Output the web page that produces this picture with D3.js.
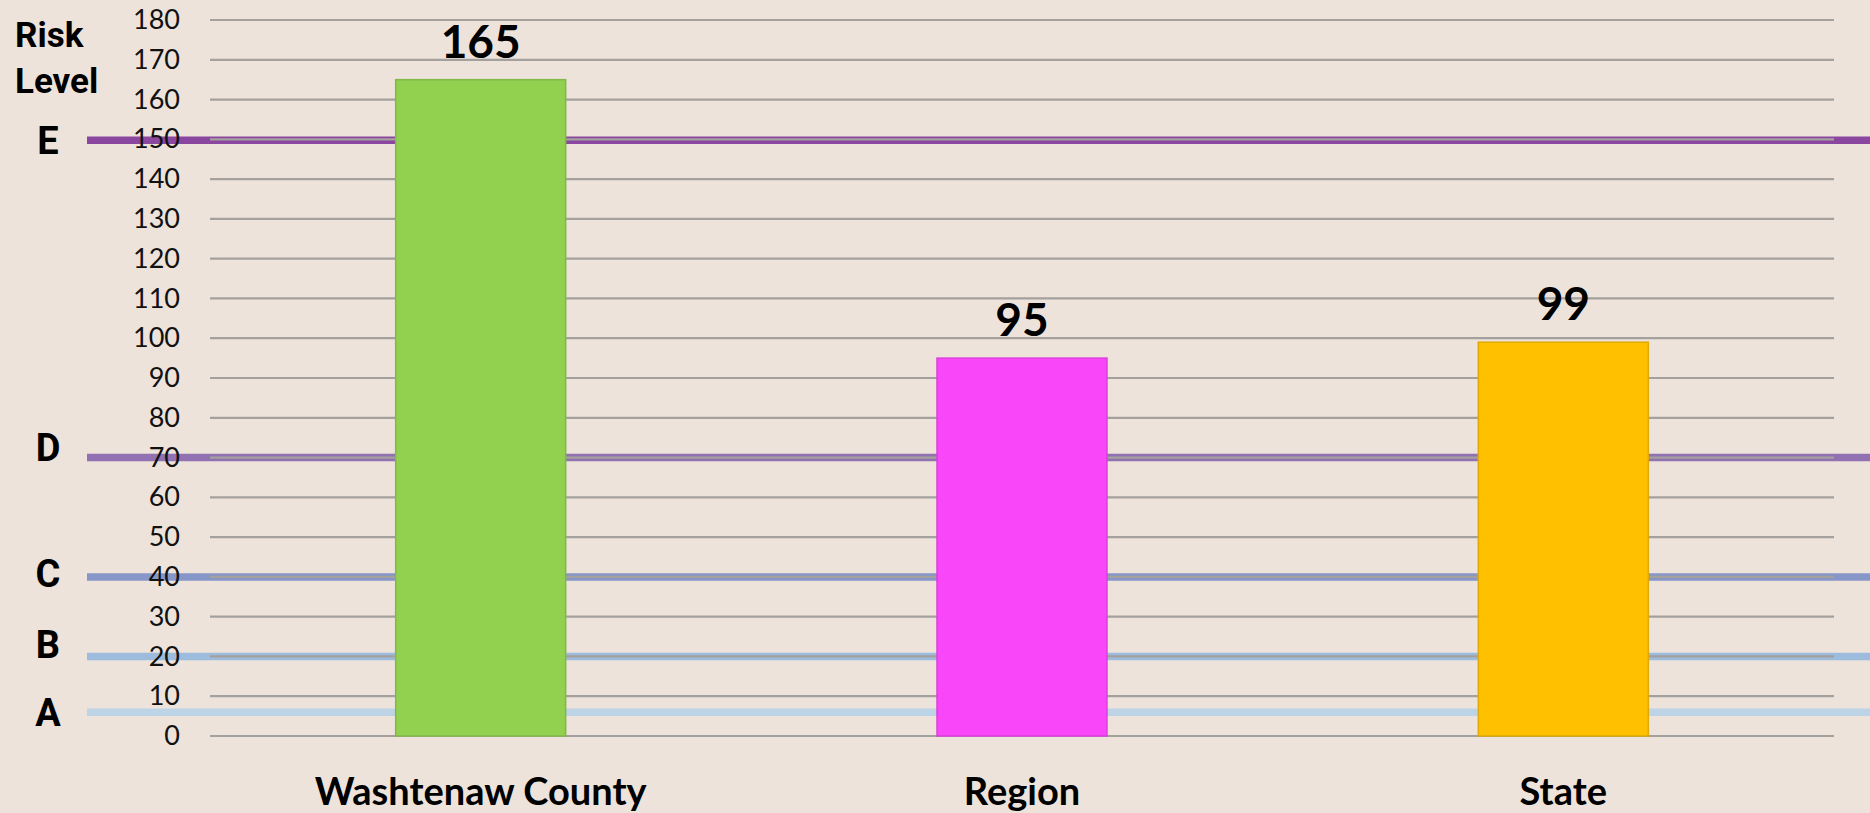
<!DOCTYPE html>
<html>
<head>
<meta charset="utf-8">
<script src="https://cdn.jsdelivr.net/npm/d3@7"></script>
<style>
  html, body { margin: 0; padding: 0; background: #ede3db; }
  svg { display: block; }
</style>
</head>
<body>
<div id="chart"></div>
<script>
// data
const categories = ["Washtenaw County", "Region", "State"];
const values = [165, 95, 99];
const barColors = ["#92d050", "#f846f8", "#ffc000"];
const yTicks = d3.range(0, 181, 10);
const levelNames = ["A", "B", "C", "D", "E"];
const levelValues = [6, 20, 40, 70, 149.8];
const levelColors = ["#bdd4e6", "#9dbcdd", "#8796c8", "#9171b1", "#8b47a0"];

function main() {
  const W = 1870, H = 813;
  const svg = d3.select("#chart").append("svg")
    .attr("width", W)
    .attr("height", H);

  const y = d3.scaleLinear().domain([0, 180]).range([736, 20]);
  const x = d3.scaleBand()
    .domain(categories)
    .range([210, 1834])
    .paddingInner(0.686)
    .paddingOuter(0.343);

  // risk level lines (behind gridlines and bars)
  svg.append("g").selectAll("line").data(levelValues)
    .join("line")
      .attr("x1", 87)
      .attr("x2", W)
      .attr("y1", d => y(d))
      .attr("y2", d => y(d))
      .attr("stroke", (d, i) => levelColors[i])
      .attr("stroke-width", 7.5);

  // gridlines
  svg.append("g").selectAll("line").data(yTicks)
    .join("line")
      .attr("x1", 210)
      .attr("x2", 1834)
      .attr("y1", d => y(d))
      .attr("y2", d => y(d))
      .attr("stroke", "#a3a09d")
      .attr("stroke-width", 2.2);

  // y axis labels
  const yAxis = svg.append("g")
    .attr("transform", "translate(210,0)")
    .call(d3.axisLeft(y).tickValues(yTicks).tickSize(0).tickPadding(30));
  yAxis.select(".domain").remove();
  yAxis.selectAll("text")
    .attr("font-family", "Lato, 'Open Sans', sans-serif")
    .attr("font-size", 27)
    .attr("fill", "#111");

  // bars
  svg.append("g").selectAll("rect").data(values)
    .join("rect")
      .attr("x", (d, i) => x(categories[i]))
      .attr("y", d => y(d))
      .attr("width", x.bandwidth())
      .attr("height", d => y(0) - y(d))
      .attr("fill", (d, i) => barColors[i])
      .attr("stroke", (d, i) => d3.color(barColors[i]).darker(0.35))
      .attr("stroke-width", 1.5);

  // value labels
  svg.append("g").selectAll("text").data(values)
    .join("text")
      .attr("x", (d, i) => x(categories[i]) + x.bandwidth() / 2)
      .attr("y", d => y(d) - 22)
      .attr("text-anchor", "middle")
      .attr("font-family", "Lato, 'Open Sans', sans-serif")
      .attr("font-weight", "bold")
      .attr("font-size", 46)
      .attr("fill", "#000")
      .text(d => d);

  // category labels
  svg.append("g").selectAll("text").data(categories)
    .join("text")
      .attr("x", d => x(d) + x.bandwidth() / 2)
      .attr("y", 805)
      .attr("text-anchor", "middle")
      .attr("font-family", "Lato, 'Open Sans', sans-serif")
      .attr("font-weight", "bold")
      .attr("font-size", 38)
      .attr("fill", "#000")
      .text(d => d);

  // risk level letters
  const nudge = [0, -12, -4, -10, 0];
  svg.append("g").selectAll("text").data(levelNames)
    .join("text")
      .attr("x", 48)
      .attr("y", (d, i) => y(levelValues[i]) + nudge[i])
      .attr("dy", "0.36em")
      .attr("text-anchor", "middle")
      .attr("font-family", "Roboto, sans-serif")
      .attr("font-weight", "bold")
      .attr("font-size", 38)
      .attr("fill", "#000")
      .text(d => d);

  const title = svg.append("text")
    .attr("font-family", "Roboto, sans-serif")
    .attr("font-weight", "bold")
    .attr("font-size", 35)
    .attr("fill", "#000");
  title.append("tspan").attr("x", 15).attr("y", 47).text("Risk");
  title.append("tspan").attr("x", 15).attr("y", 93).text("Level");
}
main();
</script>
</body>
</html>
